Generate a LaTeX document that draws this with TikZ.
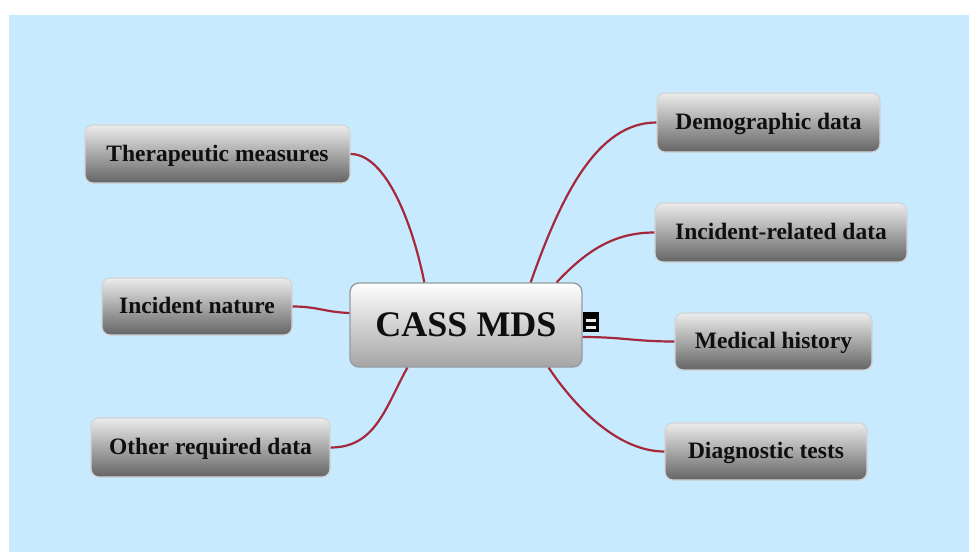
\documentclass[tikz,border=0pt]{standalone}
\usepackage{fontspec}
\setmainfont{Liberation Serif}
\begin{document}
\begin{tikzpicture}[x=1pt,y=-1pt,
  leaf/.style={rounded corners=8pt, draw=boxedge, line width=1.2pt,
    top color=leaftop, middle color=leafmid, bottom color=leafbot,
    font=\fontsize{23.5}{28}\selectfont\bfseries, text=txt, inner sep=0pt,
    text height=17pt, text depth=3pt},
  hub/.style={rounded corners=9pt, draw=hubedge, line width=1.4pt,
    top color=white, middle color=hubmid, bottom color=hubbot,
    font=\fontsize{36}{40}\selectfont\bfseries, text=txt, inner sep=0pt,
    minimum width=232pt, minimum height=84pt},
  link/.style={draw=linkred, line width=2.2pt}]
\definecolor{bg}{RGB}{200,234,254}
\definecolor{boxedge}{RGB}{210,212,214}
\definecolor{hubedge}{RGB}{150,156,160}
\definecolor{leaftop}{RGB}{236,236,236}
\definecolor{leafmid}{RGB}{190,190,190}
\definecolor{leafbot}{RGB}{100,100,100}
\definecolor{hubmid}{RGB}{226,226,226}
\definecolor{hubbot}{RGB}{165,165,165}
\definecolor{txt}{RGB}{15,15,15}
\definecolor{linkred}{RGB}{165,40,60}
\useasboundingbox (0,0) rectangle (969,552);
\fill[white] (0,0) rectangle (969,552);
\fill[bg] (9,15) rectangle (969,552);

\node[hub] (c) at (466,325) {CASS MDS};
\node[leaf, minimum width=265pt, minimum height=58pt] (ther) at (217.5,154) {Therapeutic measures};
\node[leaf, minimum width=190pt, minimum height=57pt] (inat) at (197,306.5) {Incident nature};
\node[leaf, minimum width=239pt, minimum height=59pt] (other) at (210.5,447.5) {Other required data};
\node[leaf, minimum width=223pt, minimum height=59pt] (demo) at (768.5,122.5) {Demographic data};
\node[leaf, minimum width=252pt, minimum height=59pt] (increl) at (781,232.5) {Incident-related data};
\node[leaf, minimum width=197pt, minimum height=57pt] (med) at (773.5,341.5) {Medical history};
\node[leaf, minimum width=202pt, minimum height=57pt] (diag) at (766,451.5) {Diagnostic tests};

\draw[link] (ther.east) .. controls +(35,0) and +(-12,-60) .. ([xshift=75pt]c.north west);
\draw[link] (inat.east) .. controls +(25,0) and +(-25,-1) .. ([yshift=12pt]c.west);
\draw[link] (other.east) .. controls +(45,0) and +(-22,40) .. ([xshift=58pt]c.south west);
\draw[link] ([xshift=-52pt]c.north east) .. controls +(30,-85) and +(-60,0) .. (demo.west);
\draw[link] ([xshift=-26pt]c.north east) .. controls +(30,-32) and +(-40,0) .. (increl.west);
\draw[link] ([yshift=-12pt]c.east) .. controls +(40,0) and +(-40,0) .. (med.west);
\draw[link] ([xshift=-34pt]c.south east) .. controls +(28,42) and +(-45,0) .. (diag.west);

\node[draw=black, line width=1.6pt, fill=black, minimum width=14pt, minimum height=19pt, inner sep=0pt] (tog) at (591,322) {};
\fill[white!85!gray] ([xshift=2.5pt,yshift=-7pt]tog.north west) rectangle ([xshift=-2.5pt,yshift=-10pt]tog.north east);
\fill[white!85!gray] ([xshift=2.5pt,yshift=3pt]tog.south west) rectangle ([xshift=-2.5pt,yshift=6pt]tog.south east);
\end{tikzpicture}
\end{document}
